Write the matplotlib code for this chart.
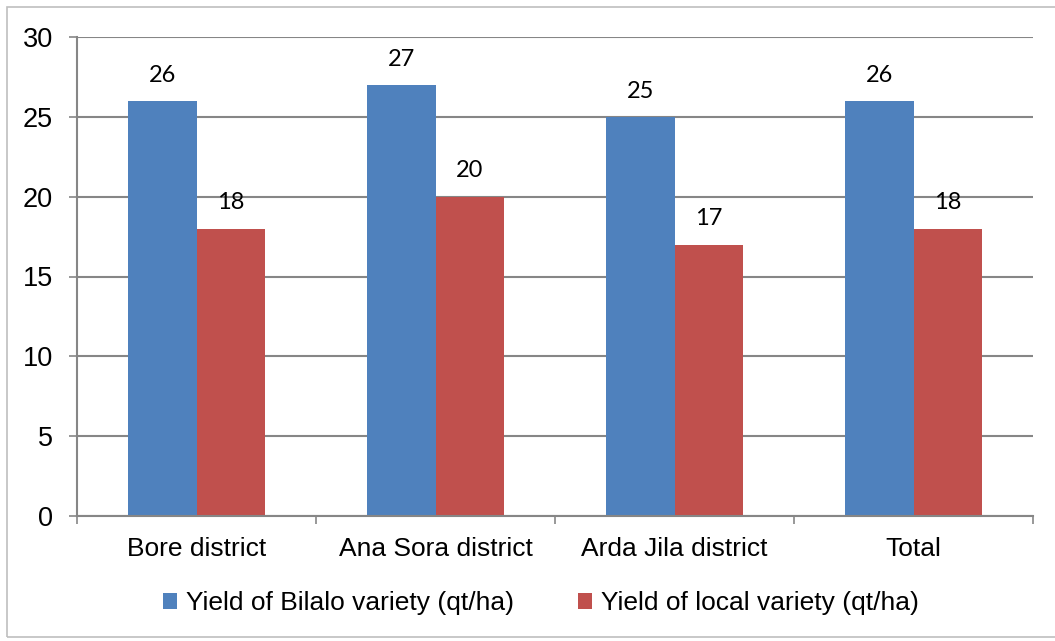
import matplotlib
matplotlib.use("Agg")
import matplotlib.pyplot as plt
from matplotlib.patches import Rectangle, Patch
import numpy as np

categories = ["Bore district", "Ana Sora district", "Arda Jila district", "Total"]
bilalo = [26, 27, 25, 26]
local = [18, 20, 17, 18]
series_names = ["Yield of Bilalo variety (qt/ha)", "Yield of local variety (qt/ha)"]
yticks = [0, 5, 10, 15, 20, 25, 30]

BLUE = "#4F81BD"
RED = "#C0504D"
GRID = "#868686"

W, H = 1055, 641
fig = plt.figure(figsize=(W / 100, H / 100), dpi=100)
plt.rcParams["font.family"] = ["Liberation Sans", "DejaVu Sans"]

ax = fig.add_axes([77 / W, 1 - 516 / H, (1033 - 77) / W, (516 - 37) / H])

x = np.arange(len(categories))
bw = 1 / 3.5
ax.bar(x - bw / 2, bilalo, width=bw, color=BLUE, zorder=3)
ax.bar(x + bw / 2, local, width=bw, color=RED, zorder=3)

lab_font = ["Lato", "DejaVu Sans"]
for xi, v in zip(x - bw / 2, bilalo):
    ax.annotate(str(v), (xi, v), xytext=(0, 18.5), textcoords="offset points",
                ha="center", va="center", fontsize=17, family=lab_font)
for xi, v in zip(x + bw / 2, local):
    ax.annotate(str(v), (xi, v), xytext=(0, 18.5), textcoords="offset points",
                ha="center", va="center", fontsize=17, family=lab_font)

ax.set_xlim(-0.5, len(categories) - 0.5)
ax.set_ylim(0, 30)
ax.set_yticks(yticks)
ax.set_yticklabels([str(t) for t in yticks])
ax.set_xticks(x)
ax.set_xticklabels(categories)
ax.set_xticks(np.arange(len(categories) + 1) - 0.5, minor=True)

ax.tick_params(axis="y", which="major", length=5.5, width=1.2, color=GRID,
               pad=12, labelsize=19.5)
ax.tick_params(axis="x", which="major", length=0, pad=15, labelsize=19)
ax.tick_params(axis="x", which="minor", length=5.5, width=1.2, color=GRID)

ax.grid(axis="y", color=GRID, linewidth=1.5, zorder=1)
ax.set_axisbelow(True)
for s in ["top", "right"]:
    ax.spines[s].set_visible(False)
for s in ["left", "bottom"]:
    ax.spines[s].set_color(GRID)
    ax.spines[s].set_linewidth(1.5)
ax.spines["bottom"].set_zorder(4)

handles = [Patch(facecolor=BLUE), Patch(facecolor=RED)]
fig.legend(handles, series_names, loc="center", bbox_to_anchor=(541 / W, 1 - 603 / H),
           ncol=2, frameon=False, fontsize=19, handlelength=0.55, handleheight=0.55,
           handletextpad=0.35, columnspacing=2.4)

fig.patches.append(Rectangle((7 / W, 1 - 637 / H), 1.1, (637 - 7) / H,
                             transform=fig.transFigure, fill=False,
                             edgecolor="#BFBFBF", linewidth=1.2))

fig.savefig("out.png", dpi=100, facecolor="white")
